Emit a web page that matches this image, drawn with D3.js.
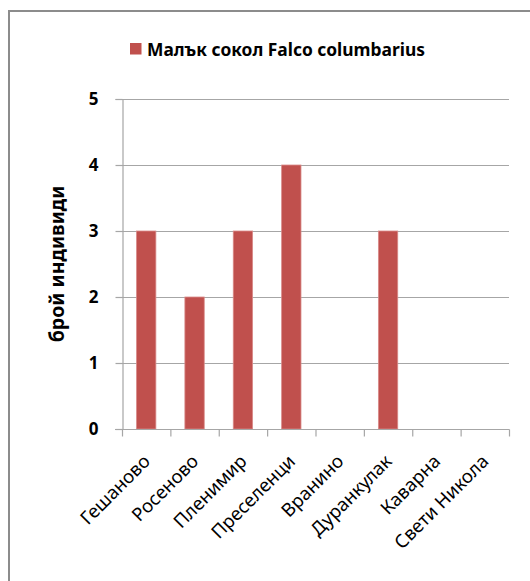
<!DOCTYPE html>
<html>
<head>
<meta charset="utf-8">
<script src="https://cdn.jsdelivr.net/npm/d3@7"></script>
<style>
  html, body { margin: 0; padding: 0; background: #fff; }
</style>
</head>
<body>
<div id="chart"></div>
<script>
  // data
  var categories = ["Гешаново", "Росеново", "Пленимир", "Преселенци", "Вранино", "Дуранкулак", "Каварна", "Свети Никола"];
  var values = [3, 2, 3, 4, 0, 3, 0, 0];
  var yTicks = [0, 1, 2, 3, 4, 5];
  var seriesName = "Малък сокол Falco columbarius";
  var yTitle = "брой индивиди";

  var width = 530, height = 581;
  var margin = {top: 99, left: 122, right: 21, bottom: 152};
  var font = "'Noto Sans', sans-serif";
  var barColor = "#c0504d";
  var gridColor = "#a6a6a6";

  var svg = d3.select("#chart").append("svg")
      .attr("width", width)
      .attr("height", height)
      .attr("font-family", font);

  // outer frame, runs off the right and bottom edges
  svg.append("rect")
      .attr("x", 9).attr("y", 11)
      .attr("width", 600).attr("height", 600)
      .attr("fill", "none")
      .attr("stroke", "#8c8c8c")
      .attr("stroke-width", 2);

  var x = d3.scaleBand()
      .domain(categories)
      .range([margin.left, width - margin.right])
      .paddingInner(0.6)
      .paddingOuter(0.3);

  var y = d3.scaleLinear()
      .domain([0, 5])
      .range([height - margin.bottom, margin.top]);

  // gridlines
  svg.append("g")
    .selectAll("line")
    .data(yTicks.slice(1))
    .join("line")
      .attr("x1", margin.left)
      .attr("x2", width - margin.right)
      .attr("y1", d => y(d) + 0.5)
      .attr("y2", d => y(d) + 0.5)
      .attr("stroke", gridColor)
      .attr("stroke-width", 1.2);

  // bars
  svg.append("g")
    .selectAll("rect")
    .data(values)
    .join("rect")
      .attr("x", (d, i) => x(categories[i]))
      .attr("y", d => y(d))
      .attr("width", x.bandwidth())
      .attr("height", d => y(0) - y(d))
      .attr("fill", barColor)
      .attr("stroke", "#d98b89")
      .attr("stroke-width", 0.8);

  // y axis
  var yAxis = svg.append("g")
      .attr("transform", `translate(${margin.left + 0.5},0)`)
      .call(d3.axisLeft(y).tickValues(yTicks).tickSize(7).tickPadding(17).tickFormat(d3.format("d")));
  yAxis.select(".domain").attr("stroke", gridColor).attr("stroke-width", 1.2);
  yAxis.selectAll(".tick line").attr("stroke", gridColor).attr("stroke-width", 1.2);
  yAxis.selectAll(".tick text")
      .attr("font-family", font)
      .attr("font-size", 17)
      .attr("font-weight", "bold")
      .attr("fill", "#000");

  // x axis with ticks on the category boundaries
  var xAxis = svg.append("g")
      .attr("transform", `translate(0,${y(0) + 0.5})`);
  xAxis.append("line")
      .attr("x1", margin.left - 7).attr("x2", width - margin.right + 0.5)
      .attr("stroke", gridColor).attr("stroke-width", 1.2);
  var bounds = d3.range(categories.length + 1).map(i => margin.left + i * (width - margin.right - margin.left) / categories.length);
  xAxis.selectAll("line.tk")
    .data(bounds)
    .join("line")
      .attr("class", "tk")
      .attr("x1", d => d + 0.5).attr("x2", d => d + 0.5)
      .attr("y1", 0).attr("y2", 7)
      .attr("stroke", gridColor).attr("stroke-width", 1.2);

  xAxis.selectAll("text")
    .data(categories)
    .join("text")
      .attr("transform", d => `translate(${x(d) + x.bandwidth() / 2 + 5},${33}) rotate(-45)`)
      .attr("text-anchor", "end")
      .attr("font-size", 18.5)
      .attr("fill", "#000")
      .text(d => d);

  // y title
  svg.append("text")
      .attr("transform", `translate(64,${(y(0) + y(5)) / 2}) rotate(-90)`)
      .attr("text-anchor", "middle")
      .attr("font-size", 19.5)
      .attr("font-weight", "bold")
      .attr("fill", "#000")
      .text(yTitle);

  // legend
  var legend = svg.append("g").attr("transform", "translate(130,43)");
  legend.append("rect")
      .attr("width", 11.5).attr("height", 11.5)
      .attr("fill", barColor);
  legend.append("text")
      .attr("x", 17).attr("y", 12.5)
      .attr("font-size", 17.4)
      .attr("font-weight", "bold")
      .attr("fill", "#000")
      .text(seriesName);
</script>
</body>
</html>
